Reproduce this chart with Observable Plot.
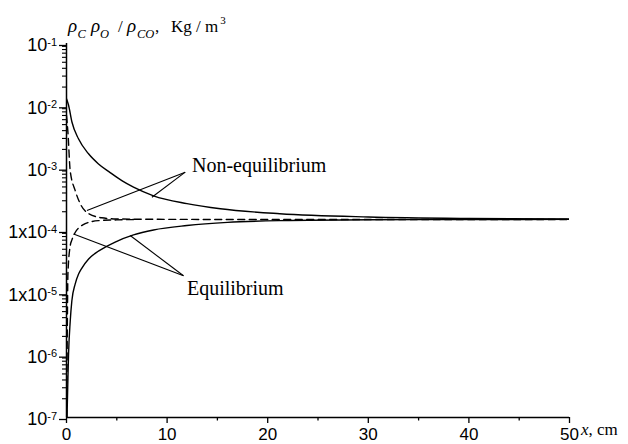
<!DOCTYPE html>
<html><head><meta charset="utf-8">
<script src="https://cdn.jsdelivr.net/npm/d3@7"></script>
<script src="https://cdn.jsdelivr.net/npm/@observablehq/plot@0.6"></script>
<style>body{margin:0;background:#fff} svg{display:block}</style>
</head><body><div id="chart"></div>
<script>
// Upper solid curve (decreasing)
const solidUpperX = [0, 0.2, 0.54, 1.19, 2.19, 3.18, 4.34, 5.5, 6.66, 8.65, 11.97, 15.3, 21.2, 30, 40, 50];
const solidUpperY = [1.3e-2, 1.03e-2, 5.5e-3, 2.96e-3, 1.7e-3, 1.17e-3, 8.5e-4, 6.3e-4, 4.95e-4, 3.6e-4, 2.7e-4, 2.23e-4, 1.86e-4, 1.65e-4, 1.56e-4, 1.53e-4];
// Lower solid curve (increasing)
const solidLowerX = [0.05, 0.12, 0.2, 0.37, 0.53, 0.86, 1.2, 1.53, 2.2, 2.85, 3.85, 4.84, 6.66, 8.65, 11.97, 16, 21.2, 30, 40, 50];
const solidLowerY = [1e-7, 3e-7, 1e-6, 3.5e-6, 7.4e-6, 1.38e-5, 2.0e-5, 2.5e-5, 3.5e-5, 4.3e-5, 5.4e-5, 6.53e-5, 8.5e-5, 1.02e-4, 1.2e-4, 1.35e-4, 1.44e-4, 1.49e-4, 1.5e-4, 1.51e-4];
// Upper dashed curve
const dashedUpperX = [0, 0.14, 0.37, 0.86, 1.36, 2.03, 3.5, 5, 10, 20, 30, 40, 50];
const dashedUpperY = [7e-3, 3.8e-3, 9e-4, 4.4e-4, 2.7e-4, 1.95e-4, 1.6e-4, 1.53e-4, 1.51e-4, 1.5e-4, 1.5e-4, 1.5e-4, 1.5e-4];
// Lower dashed curve
const dashedLowerX = [0.02, 0.06, 0.1, 0.14, 0.37, 0.53, 0.86, 1.36, 1.86, 3.18, 5, 7];
const dashedLowerY = [1e-7, 1e-6, 6e-6, 2e-5, 5.7e-5, 7e-5, 9.3e-5, 1.15e-4, 1.29e-4, 1.44e-4, 1.48e-4, 1.5e-4];

// Annotation labels and leader lines (data units)
const labelText = ["Non-equilibrium", "Equilibrium"];
const labelX = [12.47, 11.97];
const labelY = [1.12e-3, 1.18e-5];
const leaderX1 = [11.8, 11.8, 11.63, 11.63];
const leaderY1 = [8.63e-4, 8.63e-4, 1.88e-5, 1.88e-5];
const leaderX2 = [2.03, 8.49, 0.7, 6.33];
const leaderY2 = [2.09e-4, 3.42e-4, 8.8e-5, 8.3e-5];

// Ticks
const xTicks = [0, 10, 20, 30, 40, 50];
const xMinorTicks = [5, 15, 25, 35, 45];
const yTicks = [1e-1, 1e-2, 1e-3, 1e-4, 1e-5, 1e-6, 1e-7];
const yTickLabels = ["10^-1", "10^-2", "10^-3", "1x10^-4", "1x10^-5", "10^-6", "10^-7"];
const yMinorTicks = [];
for (let k = -7; k < -1; k++) for (let m = 2; m <= 9; m++) yMinorTicks.push(m * Math.pow(10, k));

const toRows = (xs, ys) => xs.map((x, i) => ({x, y: ys[i]}));
const solidUpper = toRows(solidUpperX, solidUpperY);
const solidLower = toRows(solidLowerX, solidLowerY);
const dashedUpper = toRows(dashedUpperX, dashedUpperY);
const dashedLower = toRows(dashedLowerX, dashedLowerY);
const labels = labelText.map((t, i) => ({t, x: labelX[i], y: labelY[i]}));
const leaders = leaderX1.map((x1, i) => ({x1, y1: leaderY1[i], x2: leaderX2[i], y2: leaderY2[i]}));

const serif = "'Liberation Serif', 'Times New Roman', serif";
const sans = "'Liberation Sans', Arial, sans-serif";

const lineOpts = {x: "x", y: "y", stroke: "black", strokeWidth: 1.4, curve: "monotone-x", clip: true};

const plot = Plot.plot({
  width: 628, height: 444,
  marginLeft: 66, marginRight: 59, marginTop: 43, marginBottom: 27,
  style: {fontFamily: sans, fontSize: "17px", color: "black", background: "white"},
  x: {domain: [0, 50]},
  y: {type: "log", domain: [1e-7, 1e-1]},
  marks: [
    Plot.line(solidUpper, lineOpts),
    Plot.line(solidLower, lineOpts),
    Plot.line(dashedUpper, {...lineOpts, strokeDasharray: "7,4.5"}),
    Plot.line(dashedLower, {...lineOpts, strokeDasharray: "7,4.5"}),
    Plot.link(leaders, {x1: "x1", y1: "y1", x2: "x2", y2: "y2", stroke: "black", strokeWidth: 1.1}),
    Plot.text(labels, {x: "x", y: "y", text: "t", textAnchor: "start", fontFamily: serif, fontSize: 20, fill: "black"}),
    Plot.ruleX([0], {stroke: "black", strokeWidth: 1.5}),
    Plot.ruleY([1e-7], {stroke: "black", strokeWidth: 1.5}),
    Plot.axisX({ticks: xTicks, tickSize: 6, tickPadding: 4, tickFormat: d => String(d), label: null, strokeWidth: 1.3, fontSize: 17}),
    Plot.axisX({ticks: xMinorTicks, tickSize: 3.5, tickFormat: () => "", label: null, strokeWidth: 1.3}),
    Plot.axisY({ticks: yTicks, tickSize: 7, tickPadding: 2.5, tickFormat: d => yTickLabels[yTicks.indexOf(d)], label: null, strokeWidth: 1.3, fontSize: 18, dy: 2}),
    Plot.axisY({ticks: yMinorTicks, tickSize: 4, tickFormat: () => "", label: null, strokeWidth: 1.1})
  ]
});

// superscripts on y tick labels
plot.querySelectorAll('[aria-label="y-axis tick label"] text').forEach(t => {
  const s = t.textContent;
  if (!s.includes("^")) return;
  const [b, e] = s.split("^");
  t.textContent = "";
  const ns = "http://www.w3.org/2000/svg";
  const t1 = document.createElementNS(ns, "tspan"); t1.textContent = b; t.appendChild(t1);
  const t2 = document.createElementNS(ns, "tspan"); t2.textContent = e;
  t2.setAttribute("font-size", "11"); t2.setAttribute("dy", "-0.5em"); t.appendChild(t2);
});

const svg = d3.select(plot);
// y-axis title: ρC ρO / ρCO,  Kg / m³
const yt = svg.append("text").attr("font-family", serif).attr("font-size", 17).attr("fill", "black")
  .attr("text-anchor", "start").attr("y", 32);
const parts = [
  {s: "ρ", x: 68, it: true, big: true},
  {s: "C", x: 77.5, it: true, sub: true},
  {s: "ρ", x: 91, it: true, big: true, back: true},
  {s: "O", x: 100, it: true, sub: true},
  {s: "/", x: 118, back: true},
  {s: "ρ", x: 127, it: true, big: true},
  {s: "CO", x: 137, it: true, sub: true},
  {s: ",", x: 155, back: true},
  {s: "Kg / m", x: 171},
  {s: "3", sup: true}
];
parts.forEach(p => {
  const ts = yt.append("tspan").text(p.s);
  if (p.x != null) ts.attr("x", p.x);
  if (p.it) ts.attr("font-style", "italic");
  if (p.big) ts.attr("font-size", 19);
  if (p.sub) ts.attr("font-size", 12.5).attr("dy", 6);
  if (p.back) ts.attr("dy", -6);
  if (p.sup) ts.attr("font-size", 11).attr("dy", -8).attr("dx", 2);
});
// x-axis title
const xt = svg.append("text").attr("font-family", serif).attr("font-size", 17).attr("fill", "black")
  .attr("text-anchor", "start").attr("x", 581).attr("y", 435);
xt.append("tspan").attr("font-style", "italic").text("x");
xt.append("tspan").text(", cm");

document.getElementById("chart").appendChild(plot);
</script>
</body></html>
